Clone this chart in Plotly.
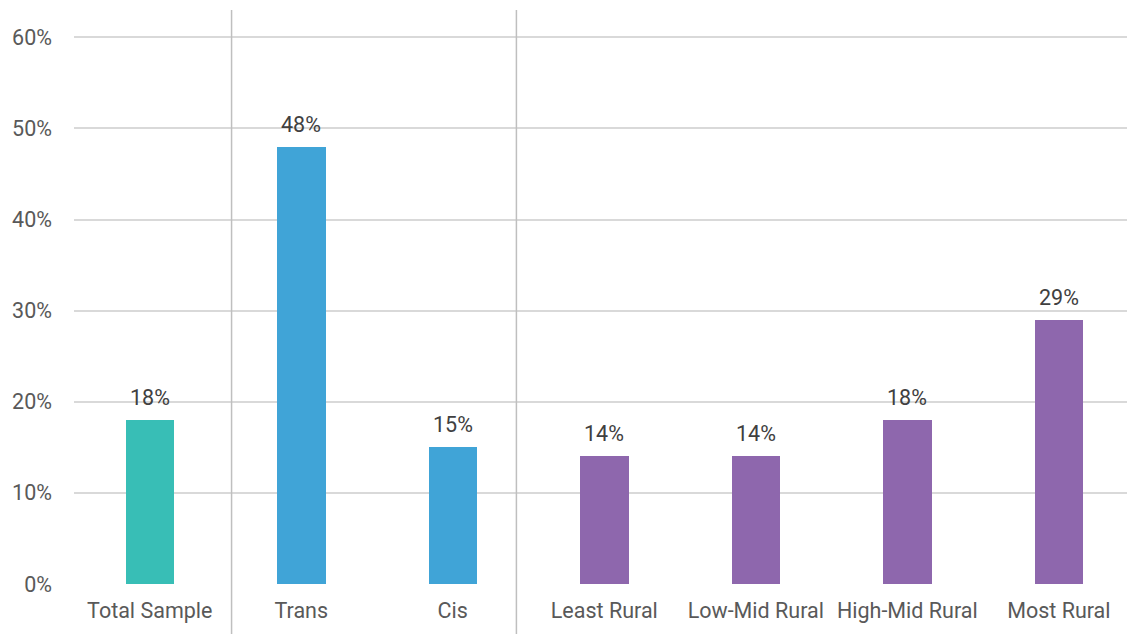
import plotly.graph_objects as go

categories = ["Total Sample", "Trans", "Cis", "Least Rural", "Low-Mid Rural", "High-Mid Rural", "Most Rural"]
values = [0.18, 0.48, 0.15, 0.14, 0.14, 0.18, 0.29]
bar_colors = ["#38BEB6", "#40A4D7", "#40A4D7", "#8E67AD", "#8E67AD", "#8E67AD", "#8E67AD"]
labels = ["18%", "48%", "15%", "14%", "14%", "18%", "29%"]
y_ticks = [0, 0.1, 0.2, 0.3, 0.4, 0.5, 0.6]
y_tick_labels = ["0%", "10%", "20%", "30%", "40%", "50%", "60%"]

FONT = "Roboto"
FS = 21.5

fig = go.Figure()
fig.add_trace(go.Bar(
    x=list(range(len(categories))), y=values,
    marker=dict(color=bar_colors, line=dict(width=0)),
    width=0.32, hoverinfo="skip",
))

for i, (v, t) in enumerate(zip(values, labels)):
    fig.add_annotation(x=i, y=v, text=t, showarrow=False, yanchor="bottom",
                       yshift=8, font=dict(family=FONT, size=FS, color="#404040"))

for xs in [0.54, 2.42]:
    fig.add_shape(type="line", xref="x", yref="paper", x0=xs, x1=xs, y0=-0.09, y1=1.0,
                  line=dict(color="#BFBFBF", width=1.5), layer="above")

fig.update_layout(
    width=1127, height=634,
    margin=dict(l=74, r=0, t=10, b=50),
    plot_bgcolor="white", paper_bgcolor="white",
    showlegend=False, bargap=0,
    font=dict(family=FONT, color="#595959", size=FS),
    xaxis=dict(
        tickmode="array", tickvals=list(range(len(categories))), ticktext=categories,
        range=[-0.5, 6.45], showgrid=False, zeroline=False, showline=False,
        ticks="", tickfont=dict(size=FS, color="#595959"), ticklabelstandoff=11,
    ),
    yaxis=dict(
        range=[0, 0.63], tickmode="array", tickvals=y_ticks, ticktext=y_tick_labels,
        showgrid=True, gridcolor="#D9D9D9", gridwidth=1.5, zeroline=False,
        showline=False, ticks="", tickfont=dict(size=FS, color="#595959"),
        ticklabelstandoff=21,
    ),
)

fig.write_html("out.html")
